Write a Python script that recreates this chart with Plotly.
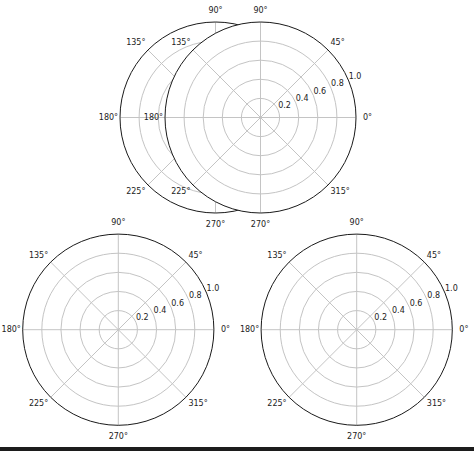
import plotly.graph_objects as go

W, H = 474, 451

# angular / radial ticks (matplotlib-like polar defaults)
angle_ticks = [0, 45, 90, 135, 180, 225, 270, 315]
angle_labels = ["0°", "45°", "90°", "135°", "180°", "225°", "270°", "315°"]
radial_ticks = [0.2, 0.4, 0.6, 0.8, 1.0]
radial_labels = ["0.2", "0.4", "0.6", "0.8", "1.0"]

# centre (px) and radius (px) of each polar panel, drawn in this order
panels = [
    ("polar", 215.5, 117.5, 95.5),
    ("polar2", 260.5, 117.5, 95.5),
    ("polar3", 118.3, 329.7, 95.6),
    ("polar4", 356.7, 329.7, 95.6),
]

rlabel_angle = 22.5

# theta labels are hung off the rim with an invisible marker whose size sets
# the gap (plotly offsets text by the marker radius), so they look centred
# on a ring like matplotlib does
theta_textpos = ["middle right", "top right", "top center", "top left",
                 "middle left", "bottom left", "bottom center", "bottom right"]
theta_gap = [9.6, 2.4, 10, 2.4, 1.4, 2.4, 11, 2.4]

fig = go.Figure()

font = dict(family="DejaVu Sans", size=8, color="#222222")
grid = "#c4c4c4"

for name, cx, cy, r in panels:
    fig.add_trace(go.Scatterpolar(
        r=[1.0] * len(angle_ticks), theta=angle_ticks, text=angle_labels,
        mode="markers+text", textposition=theta_textpos, textfont=font,
        marker=dict(size=theta_gap, color="rgba(0,0,0,0)", line_width=0),
        cliponaxis=False, hoverinfo="skip", subplot=name, showlegend=False,
    ))
    # radial tick labels: horizontal, along the 22.5° ray
    fig.add_trace(go.Scatterpolar(
        r=radial_ticks, theta=[rlabel_angle] * len(radial_ticks), text=radial_labels,
        mode="text", textposition="top right", textfont=font,
        cliponaxis=False, hoverinfo="skip", subplot=name, showlegend=False,
    ))
    fig.layout[name] = dict(
        domain=dict(
            x=[(cx - r) / W, (cx + r) / W],
            y=[1 - (cy + r) / H, 1 - (cy - r) / H],
        ),
        bgcolor="white",
        angularaxis=dict(
            tickvals=angle_ticks,
            showticklabels=False,
            rotation=0,
            direction="counterclockwise",
            showline=True,
            linecolor="#1a1a1a",
            linewidth=1,
            gridcolor=grid,
            gridwidth=0.8,
            ticks="",
        ),
        radialaxis=dict(
            range=[0, 1],
            tickvals=radial_ticks,
            showticklabels=False,
            angle=rlabel_angle,
            showline=False,
            ticks="",
            gridcolor=grid,
            gridwidth=0.8,
        ),
    )

# dark strip along the bottom edge
fig.add_shape(type="rect", xref="paper", yref="paper",
              x0=0, x1=1, y0=0, y1=4 / H,
              fillcolor="#1c1c1c", line_width=0, layer="above")

fig.update_layout(
    width=W,
    height=H,
    margin=dict(l=0, r=0, t=0, b=0),
    paper_bgcolor="white",
    plot_bgcolor="white",
    showlegend=False,
)

# drop the default body margin so the figure sits at the window's corner
fig.write_html("out.html", config=dict(displayModeBar=False),
               post_script="document.body.style.margin='0';")
